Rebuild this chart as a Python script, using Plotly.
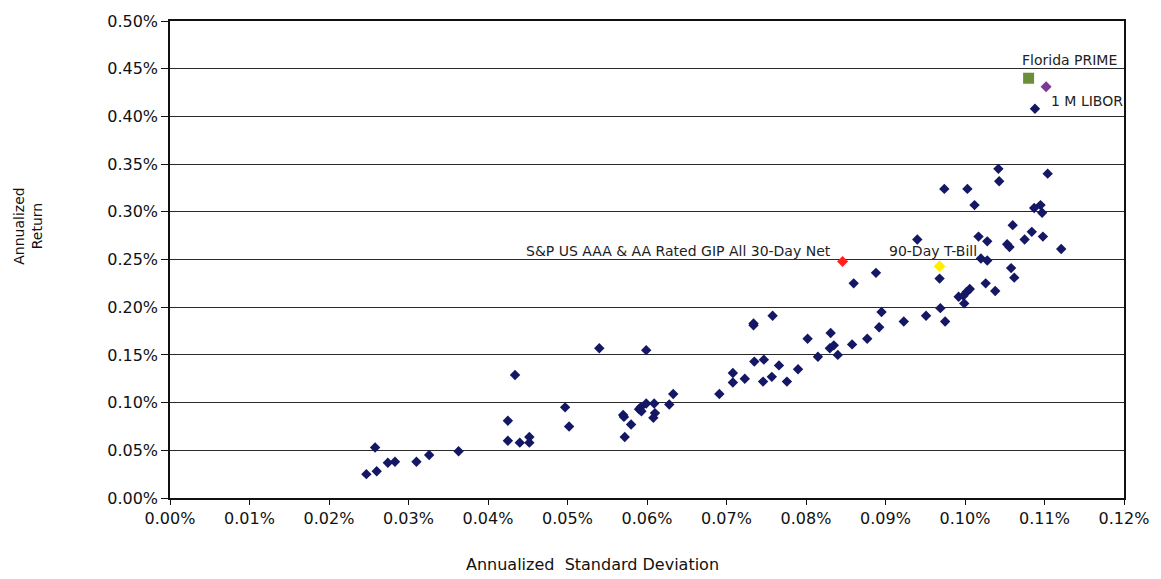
import plotly.graph_objects as go

# Peer group (annualized standard deviation %, annualized return %)
peer_sd = [0.0247, 0.0258, 0.0260, 0.0274, 0.0283, 0.0310, 0.0326, 0.0363,
           0.0425, 0.0425, 0.0434, 0.0440, 0.0452, 0.0452,
           0.0497, 0.0502, 0.0540, 0.0570, 0.0571, 0.0572, 0.0580, 0.0590, 0.0592, 0.0593,
           0.0599, 0.0599, 0.0609, 0.0610, 0.0608, 0.0628, 0.0633,
           0.0691, 0.0708, 0.0708, 0.0723, 0.0734, 0.0734, 0.0735, 0.0747, 0.0746, 0.0757,
           0.0758, 0.0766, 0.0776, 0.0790, 0.0802,
           0.0815, 0.0831, 0.0830, 0.0835, 0.0840, 0.0858, 0.0860, 0.0877, 0.0888, 0.0892,
           0.0895, 0.0923, 0.0940, 0.0951, 0.0968, 0.0969, 0.0974, 0.0975,
           0.0992, 0.0998, 0.0999, 0.1002, 0.1006, 0.1003, 0.1012, 0.1017, 0.1020, 0.1028,
           0.1028, 0.1026, 0.1038, 0.1042, 0.1043, 0.1053, 0.1056, 0.1058, 0.1060, 0.1062,
           0.1075, 0.1084, 0.1087, 0.1095, 0.1097, 0.1098, 0.1104, 0.1121, 0.1088]
peer_ret = [0.025, 0.053, 0.028, 0.037, 0.038, 0.038, 0.045, 0.049,
            0.081, 0.060, 0.129, 0.058, 0.064, 0.058,
            0.095, 0.075, 0.157, 0.087, 0.085, 0.064, 0.077, 0.093, 0.095, 0.091,
            0.099, 0.155, 0.099, 0.089, 0.084, 0.098, 0.109,
            0.109, 0.131, 0.121, 0.125, 0.183, 0.181, 0.143, 0.145, 0.122, 0.127,
            0.191, 0.139, 0.122, 0.135, 0.167,
            0.148, 0.173, 0.157, 0.160, 0.150, 0.161, 0.225, 0.167, 0.236, 0.179,
            0.195, 0.185, 0.271, 0.191, 0.230, 0.199, 0.324, 0.185,
            0.211, 0.212, 0.204, 0.216, 0.219, 0.324, 0.307, 0.274, 0.251, 0.249,
            0.269, 0.225, 0.217, 0.345, 0.332, 0.266, 0.263, 0.241, 0.286, 0.231,
            0.271, 0.279, 0.304, 0.307, 0.299, 0.274, 0.340, 0.261, 0.408]

# Highlighted series
sp_name = "S&P US AAA & AA Rated GIP All 30-Day Net"
sp_sd, sp_ret = 0.0846, 0.248
tbill_name = "90-Day T-Bill"
tbill_sd, tbill_ret = 0.0968, 0.243
prime_name = "Florida PRIME"
prime_sd, prime_ret = 0.1080, 0.440
libor_name = "1 M LIBOR"
libor_sd, libor_ret = 0.1102, 0.431

x_title = "Annualized  Standard Deviation"
y_title = "Annualized<br>Return"

x_ticks = [i / 100 for i in range(0, 13)]
y_ticks = [i * 0.05 for i in range(0, 11)]

FONT = "DejaVu Sans, Arial, sans-serif"

fig = go.Figure()
fig.add_trace(go.Scatter(x=peer_sd, y=peer_ret, mode="markers",
                         marker=dict(symbol="diamond", size=8, color="#141763"),
                         showlegend=False, hoverinfo="x+y"))
fig.add_trace(go.Scatter(x=[sp_sd], y=[sp_ret], mode="markers",
                         marker=dict(symbol="diamond", size=8.5, color="#ff2020"),
                         showlegend=False))
fig.add_trace(go.Scatter(x=[tbill_sd], y=[tbill_ret], mode="markers",
                         marker=dict(symbol="diamond", size=9, color="#ffee00"),
                         showlegend=False))
fig.add_trace(go.Scatter(x=[prime_sd], y=[prime_ret], mode="markers",
                         marker=dict(symbol="square", size=11, color="#6a8f38"),
                         showlegend=False))
fig.add_trace(go.Scatter(x=[libor_sd], y=[libor_ret], mode="markers",
                         marker=dict(symbol="diamond", size=8.5, color="#7b3a96"),
                         showlegend=False))

ann_font = dict(family=FONT, size=14, color="#222222")
fig.add_annotation(x=sp_sd, y=sp_ret, text=sp_name, showarrow=False,
                   xanchor="right", yanchor="middle", xshift=-10, yshift=10, font=ann_font)
fig.add_annotation(x=tbill_sd, y=tbill_ret, text=tbill_name, showarrow=False,
                   xanchor="center", yanchor="middle", xshift=-7, yshift=15, font=ann_font)
fig.add_annotation(x=prime_sd, y=prime_ret, text=prime_name, showarrow=False,
                   xanchor="center", yanchor="middle", xshift=41, yshift=18, font=ann_font)
fig.add_annotation(x=libor_sd, y=libor_ret, text=libor_name, showarrow=False,
                   xanchor="left", yanchor="middle", xshift=3, yshift=-14, font=ann_font)

# axis titles placed like the original
fig.add_annotation(xref="paper", yref="paper", x=0.4427, y=-0.139, text=x_title,
                   showarrow=False, xanchor="center", yanchor="middle",
                   font=dict(family=FONT, size=16, color="#111111"))
fig.add_annotation(xref="paper", yref="paper", x=-0.149, y=0.5705, text=y_title,
                   showarrow=False, xanchor="center", yanchor="middle", textangle=-90,
                   font=dict(family=FONT, size=14, color="#111111"))

fig.update_layout(
    width=1161, height=579,
    margin=dict(l=170, r=31, t=16, b=81),
    paper_bgcolor="white", plot_bgcolor="white",
    font=dict(family=FONT, size=16, color="#111111"),
    xaxis=dict(range=[0, 0.12], tickvals=x_ticks,
               ticktext=[f"{v:.2f}%" for v in x_ticks],
               showgrid=False, zeroline=False,
               showline=True, linecolor="#111111", linewidth=1.5, mirror=True,
               ticks="outside", ticklen=5, tickcolor="#111111"),
    yaxis=dict(range=[0, 0.5], tickvals=y_ticks,
               ticktext=[f"{v:.2f}%" for v in y_ticks],
               showgrid=True, gridcolor="#2a2a2a", gridwidth=1, zeroline=False,
               showline=True, linecolor="#111111", linewidth=1.5, mirror=True,
               ticks="outside", ticklen=7, tickcolor="#111111"),
)

fig.write_html("out.html", config={"displayModeBar": False},
               post_script="document.body.style.margin='0';")
